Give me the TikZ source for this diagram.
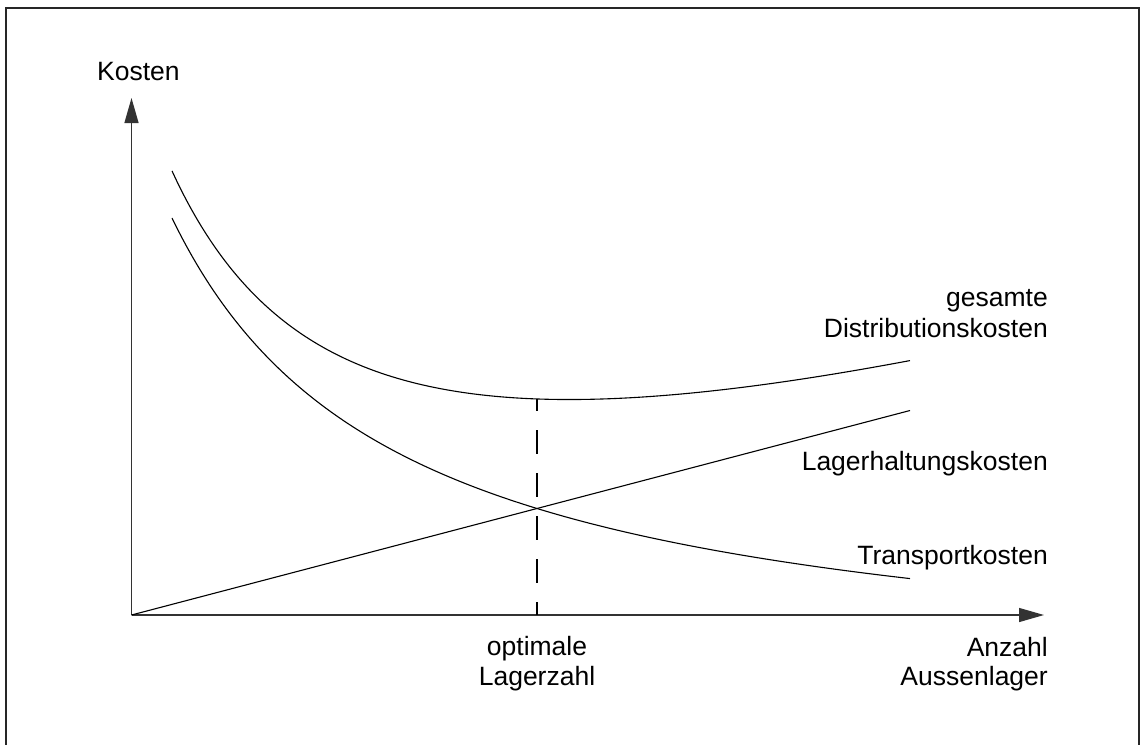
\documentclass[tikz,border=0pt]{standalone}
\usepackage{fontspec}
\setmainfont{Liberation Sans}
\usetikzlibrary{arrows.meta}
\begin{document}
\begin{tikzpicture}[x=1pt,y=-1pt,
  axis/.style={line width=1.3pt, draw=black!80, -{Triangle[length=25pt,width=14pt]}},
  curve/.style={line width=1.1pt, black},
  guide/.style={line width=1.1pt, black, dash pattern=on 24pt off 19pt, dash phase=12pt},
  lbl/.style={inner sep=0pt, font=\fontsize{26.5}{31}\selectfont},
]
\useasboundingbox (0,0) rectangle (1140,744);
% frame (open at the bottom edge of the page)
\draw[line width=1.6pt, black!85] (6,760) -- (6,8) -- (1139,8) -- (1139,760);

% axes
\coordinate (O) at (131.5,615);
\coordinate (ytip) at (131.5,98);
\coordinate (xtip) at (1044,615);
\draw[axis] (O) -- (ytip);
\draw[axis] (O) -- (xtip);

% total distribution cost: hyperbola plus linear growth
\draw[curve] plot[domain=172:910, samples=150, smooth]
  (\x, {615 - (1233.53/((\x+50)/100) + 0.3218*\x - 166.9)});
% transport cost: falling hyperbola
\draw[curve] plot[domain=172:910, samples=150, smooth]
  (\x, {615 - (1076.4/((\x+56.05)/100) - 75)});
% warehousing cost: straight line from the origin
\coordinate (Lend) at (910,410.5);
\draw[curve] (O) -- (Lend);

% optimum marker
\coordinate (optTop) at (537,399);
\coordinate (optBot) at (537,615);
\draw[guide] (optTop) -- (optBot);

% labels
\node[lbl, anchor=base west] (kosten) at (97,80.5) {Kosten};
\node[lbl, anchor=base east] (ges1) at (1048,306) {gesamte};
\node[lbl, anchor=base east] (ges2) at (1048,337) {Distributionskosten};
\node[lbl, anchor=base east] (lager) at (1048,470) {Lagerhaltungskosten};
\node[lbl, anchor=base east] (trans) at (1048,564) {Transportkosten};
\node[lbl, anchor=base east] (anz1) at (1048,656) {Anzahl};
\node[lbl, anchor=base east] (anz2) at (1048,685) {Aussenlager};
\node[lbl, anchor=base] (opt1) at (537,655) {optimale};
\node[lbl, anchor=base] (opt2) at (537,685) {Lagerzahl};
\end{tikzpicture}
\end{document}
